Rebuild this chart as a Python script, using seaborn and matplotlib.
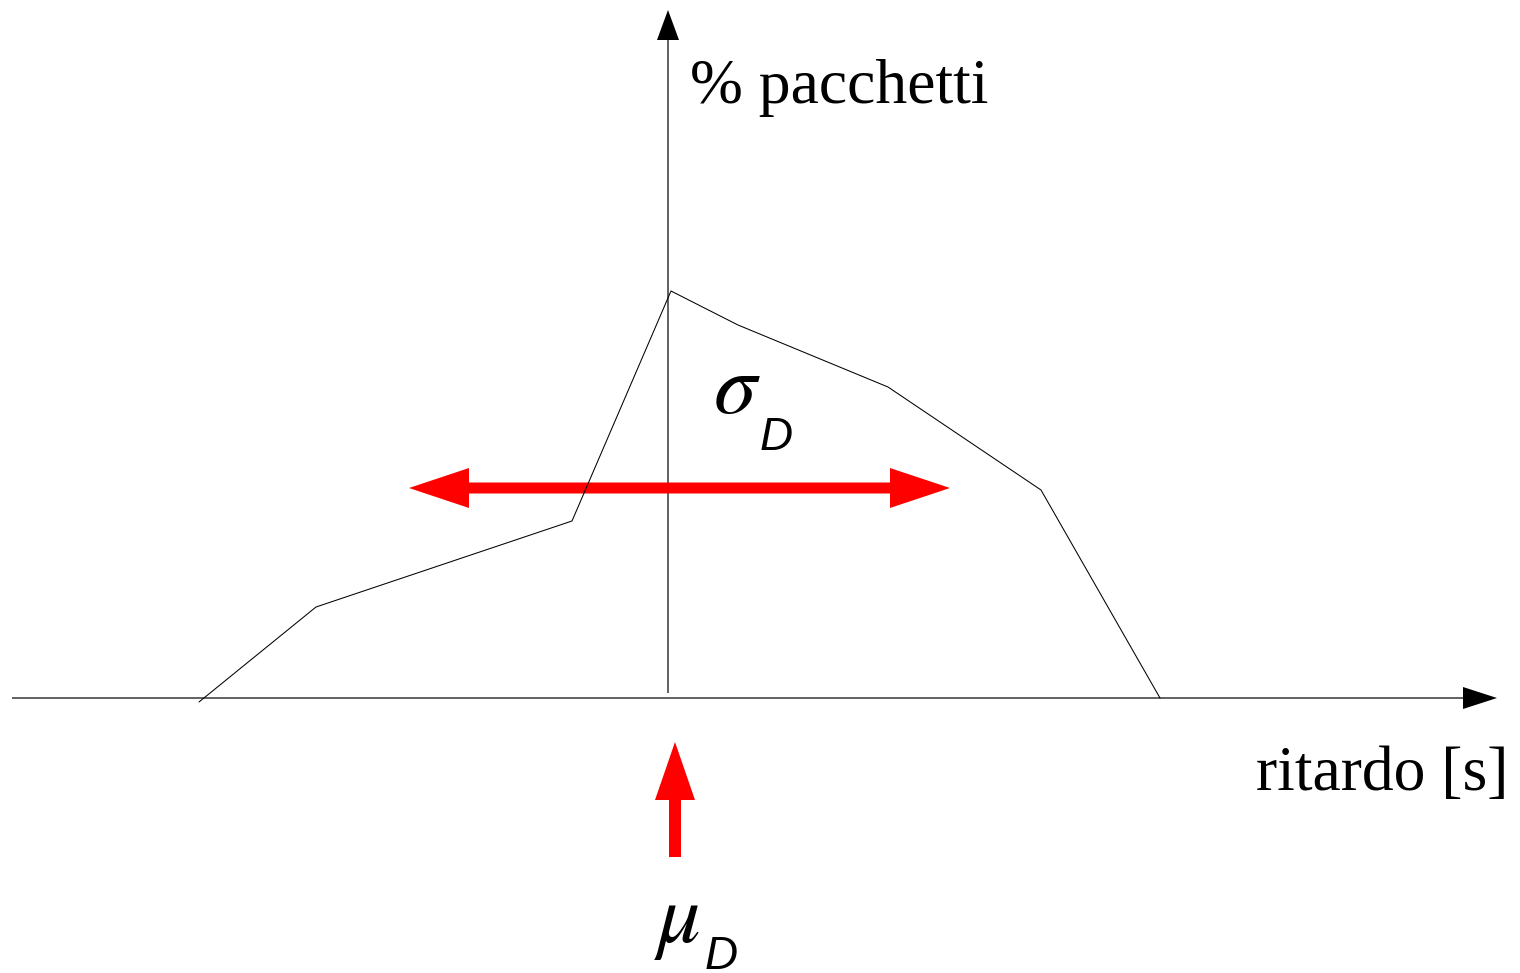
import matplotlib
matplotlib.use("Agg")
import matplotlib.pyplot as plt
from matplotlib.patches import FancyArrow
import seaborn as sns
import pandas as pd

sns.set_theme(style="white")
plt.rcParams['font.family'] = ['Liberation Serif', 'DejaVu Serif']
plt.rcParams['mathtext.fontset'] = 'stix'

# Data: delay (relative to mean) and packet percentage
delay = [-469, -352, -96, 3, 70, 220, 373, 492]
pct = [-4, 91, 177, 407, 373, 311, 208, 0]

x_label = "ritardo [s]"
y_label = "% pacchetti"

df = pd.DataFrame({"ritardo": delay, "pacchetti": pct})

fig = plt.figure(figsize=(15.2, 9.73), dpi=100)
ax = fig.add_axes([0, 0, 1, 1])
ax.set_xlim(-668, 852)
ax.set_ylim(-275, 698)
ax.axis('off')

sns.lineplot(data=df, x="ritardo", y="pacchetti", sort=False, color="black",
             linewidth=0.75, ax=ax)

# axes arrows
ax.add_patch(FancyArrow(-656, 0, 1485, 0, width=1.2, head_width=22, head_length=34,
                        length_includes_head=True, color="black", lw=0))
ax.add_patch(FancyArrow(0, 5, 0, 683, width=1.2, head_width=22, head_length=30,
                        length_includes_head=True, color="black", lw=0))

# sigma double arrow
red = "#ff0000"
ax.add_patch(FancyArrow(12, 210, 270, 0, width=11, head_width=40, head_length=60,
                        length_includes_head=True, color=red, lw=0))
ax.add_patch(FancyArrow(12, 210, -271, 0, width=11, head_width=40, head_length=60,
                        length_includes_head=True, color=red, lw=0))
# mu arrow
ax.add_patch(FancyArrow(7, -159, 0, 115, width=12, head_width=40, head_length=58,
                        length_includes_head=True, color=red, lw=0))

ax.text(22, 595, y_label, fontsize=45.8, ha='left', va='baseline', color='black')
ax.text(840, -92, x_label, fontsize=45.8, ha='right', va='baseline', color='black')

ax.text(45, 285, r"$\sigma$", fontsize=62, ha='left', va='baseline', color='black')
ax.text(92, 248, "D", fontsize=33, style='italic', family=['Liberation Sans', 'DejaVu Sans'],
        ha='left', va='baseline', color='black')
ax.text(-14, -244, r"$\mu$", fontsize=62, ha='left', va='baseline', color='black')
ax.text(37, -271, "D", fontsize=33, style='italic', family=['Liberation Sans', 'DejaVu Sans'],
        ha='left', va='baseline', color='black')

fig.savefig("out.png", dpi=100)
